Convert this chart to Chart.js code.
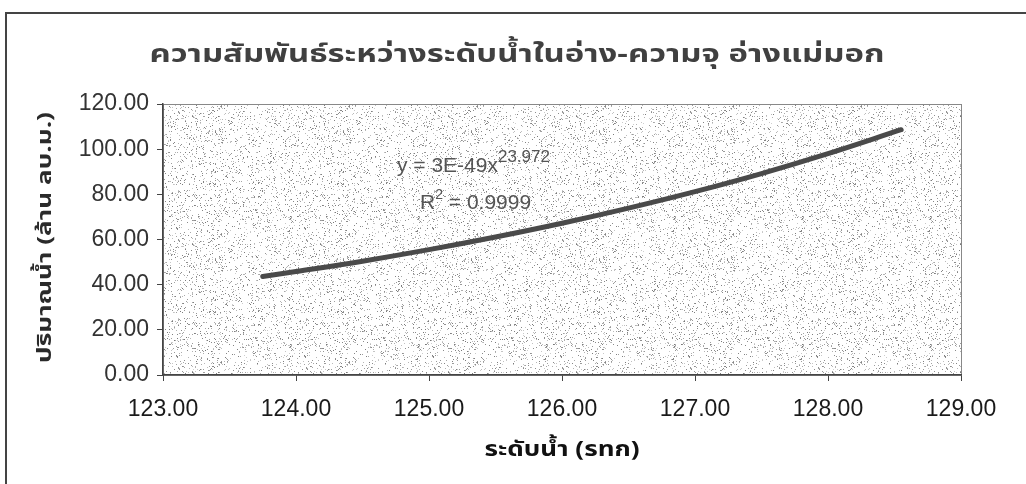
<!DOCTYPE html>
<html>
<head>
<meta charset="utf-8">
<script src="https://cdn.jsdelivr.net/npm/chart.js@4.4.1/dist/chart.umd.min.js"></script>
<style>
  html, body { margin: 0; padding: 0; background: #ffffff; }
  #wrap { width: 1026px; height: 484px; position: relative; }
</style>
</head>
<body>
<div id="wrap"><canvas id="c" width="1026" height="484"></canvas></div>
<script>
// Reservoir level (m MSL) vs. storage (million m3), Mae Mok reservoir
const levels  = [123.75, 124.00, 124.50, 125.00, 125.50, 126.00, 126.50, 127.00, 127.50, 128.00, 128.55];
const storage = [43.6, 45.8, 50.4, 55.5, 61.1, 67.2, 73.9, 81.2, 89.2, 98.0, 108.6];
const xTicks = [123, 124, 125, 126, 127, 128, 129];
const yTicks = [0, 20, 40, 60, 80, 100, 120];

const chartTitle = 'ความสัมพันธ์ระหว่างระดับน้ำในอ่าง-ความจุ อ่างแม่มอก';
const xTitle = 'ระดับน้ำ (รทก)';
const yTitle = 'ปริมาณน้ำ (ล้าน ลบ.ม.)';
const eqText = ['y = 3E-49x', '23.972'];
const r2Text = ['R', '2', ' = 0.9999'];

const thaiFont = '"Noto Sans Thai", "Tahoma", "Liberation Sans", "DejaVu Sans", sans-serif';
const numFont = '"Liberation Sans", Arial, sans-serif';

// speckled fill for the plot area
function makeSpeckle() {
  const c = document.createElement('canvas');
  c.width = 128; c.height = 128;
  const g = c.getContext('2d');
  g.fillStyle = '#ffffff';
  g.fillRect(0, 0, 128, 128);
  const img = g.getImageData(0, 0, 128, 128);
  for (let y = 0; y < 128; y++) {
    for (let x = 0; x < 128; x++) {
      let h = (x * 374761393 + y * 668265263) | 0;
      h = Math.imul(h ^ (h >>> 13), 1274126177);
      h = (h ^ (h >>> 16)) >>> 0;
      const r = (h % 1000) / 1000;
      if (r < 0.10) {
        const v = 120 + (h % 90);
        const i = (y * 128 + x) * 4;
        img.data[i] = v; img.data[i + 1] = v; img.data[i + 2] = v;
      }
    }
  }
  g.putImageData(img, 0, 0);
  return c;
}

// draw text centred at (cx, cy), stretched horizontally to span the given width
function fitText(ctx, text, cx, cy, width) {
  const w = ctx.measureText(text).width;
  ctx.save();
  ctx.translate(cx, cy);
  ctx.scale(width / w, 1);
  ctx.textAlign = 'center';
  ctx.textBaseline = 'middle';
  ctx.fillText(text, 0, 0);
  ctx.restore();
}

const decor = {
  id: 'decor',
  beforeDraw(chart) {
    const { ctx, chartArea: a } = chart;
    ctx.save();
    ctx.fillStyle = ctx.createPattern(makeSpeckle(), 'repeat');
    ctx.fillRect(a.left, a.top, a.right - a.left, a.bottom - a.top);
    ctx.strokeStyle = '#888';
    ctx.lineWidth = 1;
    ctx.strokeRect(a.left + 0.5, a.top + 0.5, a.right - a.left, a.bottom - a.top);
    ctx.restore();
  },
  afterDraw(chart) {
    const { ctx, chartArea: a } = chart;
    ctx.save();
    // outer frame (top and left edges visible)
    ctx.strokeStyle = '#444';
    ctx.lineWidth = 2;
    ctx.beginPath();
    ctx.moveTo(6, 484);
    ctx.lineTo(6, 13);
    ctx.lineTo(1026, 13);
    ctx.stroke();

    // chart title
    ctx.fillStyle = '#404040';
    ctx.font = 'bold 25px ' + thaiFont;
    fitText(ctx, chartTitle, 517, 57, 735);

    // x axis title
    ctx.font = 'bold 21px ' + thaiFont;
    ctx.fillStyle = '#111';
    fitText(ctx, xTitle, (a.left + a.right) / 2, 452, 155);

    // y axis title
    ctx.save();
    ctx.translate(47, (a.top + a.bottom) / 2 - 2);
    ctx.rotate(-Math.PI / 2);
    ctx.font = 'bold 20px ' + thaiFont;
    ctx.fillStyle = '#2a2a2a';
    fitText(ctx, yTitle, 0, 0, 251);
    ctx.restore();

    // trendline equation
    ctx.fillStyle = '#555';
    ctx.textAlign = 'left';
    ctx.textBaseline = 'alphabetic';
    ctx.font = '21px ' + numFont;
    let x = 397;
    ctx.fillText(eqText[0], x, 172);
    x += ctx.measureText(eqText[0]).width;
    ctx.font = '17px ' + numFont;
    ctx.fillText(eqText[1], x, 162);

    ctx.font = '21px ' + numFont;
    x = 420;
    ctx.fillText(r2Text[0], x, 209);
    x += ctx.measureText(r2Text[0]).width;
    ctx.font = '14px ' + numFont;
    ctx.fillText(r2Text[1], x, 199);
    x += ctx.measureText(r2Text[1]).width;
    ctx.font = '21px ' + numFont;
    ctx.fillText(r2Text[2], x, 209);
    ctx.restore();
  }
};

new Chart(document.getElementById('c'), {
  type: 'scatter',
  data: {
    datasets: [{
      data: levels.map((v, i) => ({ x: v, y: storage[i] })),
      showLine: true,
      borderColor: '#4a4a4a',
      borderWidth: 5,
      pointRadius: 0,
      tension: 0.4,
      borderCapStyle: 'round'
    }]
  },
  options: {
    responsive: false,
    animation: false,
    events: [],
    layout: { padding: { left: 0, right: 65, top: 104, bottom: 0 } },
    plugins: { legend: { display: false }, tooltip: { enabled: false } },
    scales: {
      x: {
        type: 'linear',
        min: xTicks[0],
        max: xTicks[xTicks.length - 1],
        afterBuildTicks: s => { s.ticks = xTicks.map(v => ({ value: v })); },
        afterFit: s => { s.height = 109; },
        grid: { drawOnChartArea: false, drawTicks: true, tickLength: 6, color: '#444' },
        border: { color: '#444', width: 1.5 },
        ticks: {
          callback: v => v.toFixed(2),
          font: { family: numFont, size: 23 },
          color: '#1a1a1a',
          padding: 15,
          maxRotation: 0
        }
      },
      y: {
        min: yTicks[0],
        max: yTicks[yTicks.length - 1],
        afterBuildTicks: s => { s.ticks = yTicks.map(v => ({ value: v })); },
        afterFit: s => { s.width = 163; },
        grid: { drawOnChartArea: false, drawTicks: true, tickLength: 6, color: '#444' },
        border: { color: '#444', width: 1.5 },
        ticks: {
          callback: v => v.toFixed(2),
          font: { family: numFont, size: 23 },
          color: '#333',
          padding: 8
        }
      }
    }
  },
  plugins: [decor]
});
</script>
</body>
</html>
